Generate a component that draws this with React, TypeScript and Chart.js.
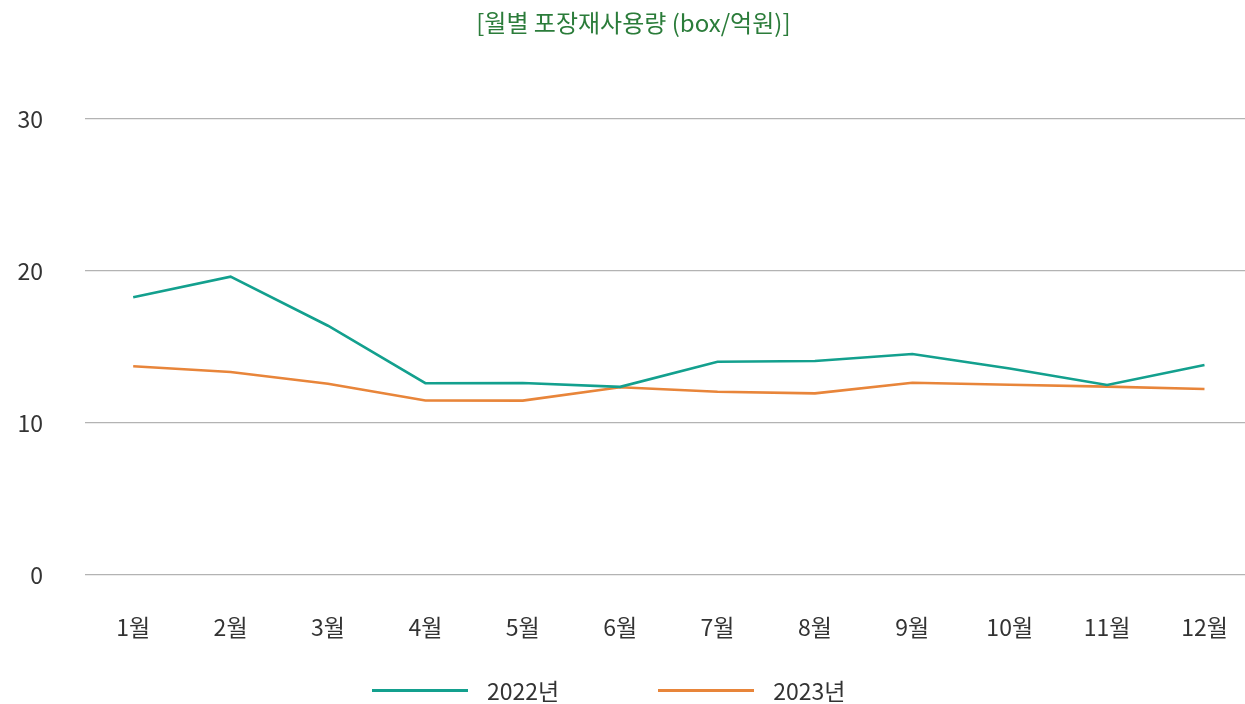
import React, { useEffect, useRef } from "react";
import { Chart, registerables } from "chart.js";

Chart.register(...registerables);

const TITLE = "[월별 포장재사용량 (box/억원)]";
const MONTHS = ["1월", "2월", "3월", "4월", "5월", "6월", "7월", "8월", "9월", "10월", "11월", "12월"];
const SERIES_NAMES = ["2022년", "2023년"];
const VALUES_2022 = [18.27, 19.63, 16.4, 12.62, 12.63, 12.38, 14.03, 14.08, 14.54, 13.58, 12.5, 13.82];
const VALUES_2023 = [13.73, 13.36, 12.58, 11.48, 11.47, 12.35, 12.06, 11.95, 12.65, 12.52, 12.39, 12.24];
const Y_TICKS = [0, 10, 20, 30];
const COLORS = ["#13a08e", "#e8853a"];

const FONT = "'Noto Sans CJK KR', 'Noto Sans', sans-serif";

export default function App() {
  const canvasRef = useRef<HTMLCanvasElement | null>(null);

  useEffect(() => {
    document.body.style.margin = "0";
    document.body.style.overflow = "hidden";
    const canvas = canvasRef.current;
    if (!canvas) return;
    const chart = new Chart(canvas, {
      type: "line",
      data: {
        labels: MONTHS,
        datasets: [
          {
            label: SERIES_NAMES[0],
            data: VALUES_2022,
            borderColor: COLORS[0],
            backgroundColor: COLORS[0],
            borderWidth: 2.6,
            pointRadius: 0,
            tension: 0,
          },
          {
            label: SERIES_NAMES[1],
            data: VALUES_2023,
            borderColor: COLORS[1],
            backgroundColor: COLORS[1],
            borderWidth: 2.6,
            pointRadius: 0,
            tension: 0,
          },
        ],
      },
      options: {
        animation: false,
        responsive: false,
        layout: { padding: { top: 0, left: 4.6, right: 3.9, bottom: 25.4 } },
        plugins: {
          legend: { display: false },
          tooltip: { enabled: false },
          title: {
            display: true,
            text: TITLE,
            color: "#2b7c3a",
            font: { family: FONT, size: 24, weight: "normal" },
            padding: { top: 8, bottom: 82.2 },
          },
        },
        scales: {
          x: {
            type: "category",
            offset: true,
            grid: { display: false, drawTicks: false },
            border: { display: false },
            ticks: {
              color: "#333333",
              font: { family: FONT, size: 23 },
              padding: 38,
              maxRotation: 0,
              autoSkip: false,
            },
          },
          y: {
            min: 0,
            max: 30,
            afterFit: (scale: any) => {
              scale.width = 79.9;
            },
            afterBuildTicks: (scale: any) => {
              scale.ticks = Y_TICKS.map((v) => ({ value: v }));
            },
            grid: { color: "#b3b3b3", lineWidth: 1.2, drawTicks: false },
            border: { display: false },
            ticks: {
              color: "#333333",
              font: { family: FONT, size: 23 },
              padding: 41.5,
            },
          },
        },
      },
    });
    return () => chart.destroy();
  }, []);

  return (
    <div style={{ position: "fixed", left: 0, top: 0, width: 1266, height: 704, background: "#ffffff" }}>
      <canvas ref={canvasRef} width={1266} height={704} style={{ position: "absolute", left: 0, top: 0, width: 1266, height: 704 }} />
      <div
        style={{
          position: "absolute",
          left: 372,
          top: 674,
          height: 32,
          display: "flex",
          alignItems: "center",
          fontFamily: FONT,
          fontSize: 23,
          color: "#333333",
          whiteSpace: "nowrap",
        }}
      >
        {SERIES_NAMES.map((name, i) => (
          <div key={name} style={{ display: "flex", alignItems: "center", marginRight: i === 0 ? 99 : 0 }}>
            <span style={{ display: "inline-block", width: 96, height: 3, background: COLORS[i], marginRight: 19 }} />
            <span>{name}</span>
          </div>
        ))}
      </div>
    </div>
  );
}
